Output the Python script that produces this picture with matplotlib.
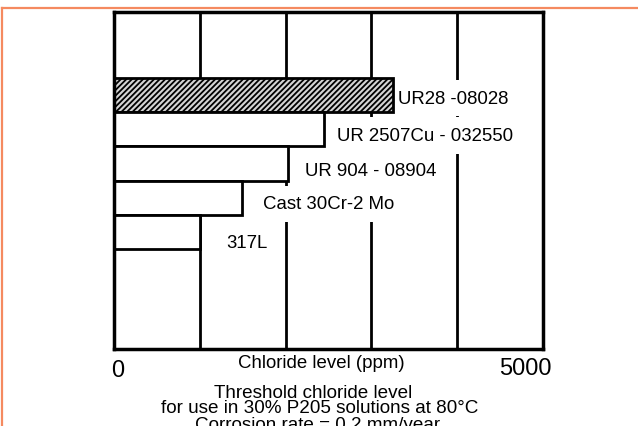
import matplotlib.pyplot as plt
from matplotlib.lines import Line2D

plt.rcParams['font.family'] = ['Liberation Sans', 'DejaVu Sans']
plt.rcParams['hatch.color'] = '#808080'
plt.rcParams['hatch.linewidth'] = 1.3

# alliages, du haut vers le bas
alloys = ['UR28 -08028', 'UR 2507Cu - 032550', 'UR 904 - 08904', 'Cast 30Cr-2 Mo', '317L']
chloride = [3250, 2450, 2030, 1490, 1000]
hatched = [True, False, False, False, False]
grid_x = [1000, 2000, 3000, 4000]
x_max = 5000

# decalage des etiquettes (pixels)
lab_dx = [5, 13, 17, 21, 26]
lab_dy = [-3, -6, -7, -6, -11]

W, H = 638, 427
fig = plt.figure(figsize=(W / 100, H / 100), dpi=100)
ax = fig.add_axes([114 / W, 1 - 350 / H, (543 - 114) / W, (350 - 13) / H])

for gx in grid_x:
    ax.axvline(gx, color='black', lw=2, zorder=1)

ypos = list(range(len(alloys)))
for y, v, h in zip(ypos, chloride, hatched):
    if h:
        ax.barh(y, v, height=1.0, left=0, facecolor='#d4d4d4', edgecolor='black',
                hatch='//////', lw=2, zorder=3)
    else:
        ax.barh(y, v, height=1.0, left=0, facecolor='white', edgecolor='black',
                lw=2, zorder=3)

for y, v, name, dx, dy in zip(ypos, chloride, alloys, lab_dx, lab_dy):
    ax.annotate(name, xy=(v, y), xytext=(dx, dy), textcoords='offset pixels',
                ha='left', va='center', fontsize=13.4, zorder=2,
                bbox=dict(facecolor='white', edgecolor='none', pad=7))

ax.set_xlim(0, x_max)
ax.set_ylim(7.42, -2.43)
ax.set_xticks([])
ax.set_yticks([])
for s in ax.spines.values():
    s.set_linewidth(2.5)
    s.set_zorder(4)

def px(x, y):
    return x / W, 1 - y / H

fig.text(*px(118, 377), '0', fontsize=17, ha='center', va='baseline')
fig.text(*px(525, 375), '5000', fontsize=17, ha='center', va='baseline')
fig.text(*px(321, 368), 'Chloride level (ppm)', fontsize=13.4, ha='center', va='baseline')
fig.text(*px(313, 398), 'Threshold chloride level', fontsize=13.6, ha='center', va='baseline')
fig.text(*px(320, 413), 'for use in 30% P205 solutions at 80°C', fontsize=13.6,
         ha='center', va='baseline')
fig.text(*px(318, 430), 'Corrosion rate = 0.2 mm/year', fontsize=13.6,
         ha='center', va='baseline')

# cadre orange
fig.add_artist(Line2D([2.5 / W, 1], [1 - 8.5 / H] * 2, transform=fig.transFigure,
                      color='#f58a60', lw=1.6))
fig.add_artist(Line2D([2.5 / W] * 2, [0, 1 - 8.5 / H], transform=fig.transFigure,
                      color='#f58a60', lw=1.6))

fig.savefig('out.png', dpi=100)
